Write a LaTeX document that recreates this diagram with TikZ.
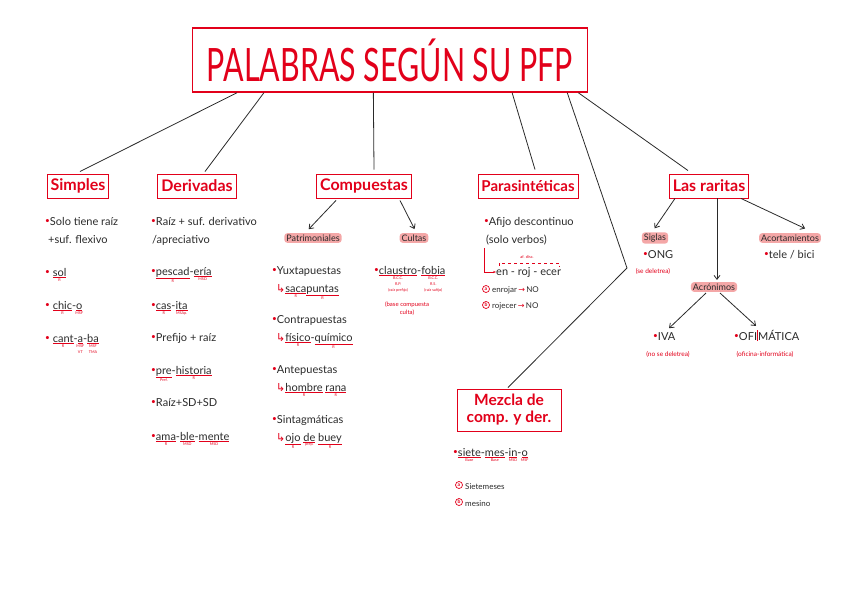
\documentclass[tikz,border=0pt]{standalone}
\usepackage{fontspec}
\setmainfont{Lato}
\newfontfamily\simbolos{DejaVu Sans}
\usetikzlibrary{arrows.meta,calc}
\definecolor{rojo}{HTML}{E2001A}
\definecolor{rosa}{HTML}{F4A7A7}
\definecolor{tinta}{HTML}{2A2A2A}
% bullet, arrows and morpheme with red underline + label
\newcommand\bul{\raisebox{1.5pt}{\scalebox{0.75}{\color{rojo}\textbullet}}}
\newcommand\flr{\,{\simbolos\color{rojo}→}\,}
\newcommand\sub{{\simbolos\color{rojo}↳}}
\newcommand\mrf[2]{\setbox0\hbox{#1}\vtop{\offinterlineskip\copy0\kern1.2pt\hbox{\color{rojo}\vrule width\wd0 height0.6pt}\kern0.9pt\hbox to\wd0{\hss\color{rojo}\fontsize{3.8}{4.2}\selectfont\shortstack{#2}\hss}}}
\begin{document}
\begin{tikzpicture}[x=1pt, y=-1pt,
    every node/.style={font=\fontsize{11}{12.5}\selectfont, text=tinta, inner sep=0pt},
    tema/.style={draw=rojo, line width=0.9pt, fill=white, text=rojo, font=\fontsize{16}{18}\selectfont\bfseries, inner xsep=3.5pt, minimum height=24pt},
    resalte/.style={fill=rosa, rounded corners=3pt, inner xsep=2pt, inner ysep=1.5pt, font=\fontsize{9}{10}\selectfont},
    txt/.style={anchor=base west},
    chico/.style={txt, font=\fontsize{8}{9}\selectfont},
    circulo/.style={circle, draw=rojo, line width=0.7pt, text=rojo, minimum size=7pt, font=\fontsize{5}{5}\selectfont\bfseries},
    nota/.style={text=rojo, font=\fontsize{6.5}{7.5}\selectfont},
    rama/.style={draw=tinta, line width=0.8pt},
    flecha/.style={rama, -{Straight Barb[length=4pt, width=6pt]}, shorten >=1pt}
]
\useasboundingbox (0,0) rectangle (848,599);

% Titulo
\node[draw=rojo, line width=1.5pt, fill=white, minimum width=395pt, minimum height=64pt, text=rojo] (titulo) at (390,60)
    {\scalebox{0.66}[1]{\fontsize{46}{46}\selectfont PALABRAS SEGÚN SU PFP}};

% Temas
\node[tema] (simples) at (78,186) {Simples};
\node[tema] (derivadas) at (197,186) {Derivadas};
\node[tema] (compuestas) at (364,186) {Compuestas};
\node[tema, font=\fontsize{15}{17}\selectfont\bfseries] (parasint) at (528,186) {Parasintéticas};
\node[tema] (raritas) at (709,186) {Las raritas};
\node[tema, align=center, font=\fontsize{15.5}{17}\selectfont\bfseries, minimum width=104pt, minimum height=42pt] (mezcla) at (509,410) {Mezcla de\\comp. y der.};

% Simples
\node[txt] (s1) at (45,225) {\bul Solo tiene raíz};
\node[txt] (s1b) at (48,243) {+suf. flexivo};
\node[txt] (s2) at (45,276) {\bul\ \mrf{sol}{R}};
\node[txt] (s3) at (45,309) {\bul\ \mrf{chic}{R}-\mrf{o}{MSF}};
\node[txt] (s4) at (45,342) {\bul\ \mrf{cant}{R}-\mrf{a}{MSF\\VT}-\mrf{ba}{MSF\\TMA}};

% Derivadas
\node[txt] (d1) at (151,225) {\bul Raíz + suf. derivativo};
\node[txt] (d1b) at (152,243) {/apreciativo};
\node[txt] (d2) at (151,275) {\bul\mrf{pescad}{R}-\mrf{ería}{MSD}};
\node[txt] (d3) at (151,309) {\bul\mrf{cas}{R}-\mrf{ita}{MSAp.}};
\node[txt] (d4) at (151,341) {\bul Prefijo + raíz};
\node[txt] (d5) at (151,374) {\bul\mrf{pre}{Pref.}-\mrf{historia}{R}};
\node[txt] (d6) at (151,406) {\bul Raíz+SD+SD};
\node[txt] (d7) at (151,440) {\bul\mrf{ama}{R}-\mrf{ble}{MSD}-\mrf{mente}{MSD}};

% Compuestas
\node[resalte] (patrim) at (313,238) {Patrimoniales};
\node[resalte] (cultas) at (414,238) {Cultas};
\node[txt] (c1) at (272,274) {\bul Yuxtapuestas};
\node[txt] (c1b) at (276,292) {\sub\mrf{saca}{R}\mrf{puntas}{R}};
\node[txt] (c2) at (374,274) {\bul\mrf{claustro}{B.C.C.\\R.P.\\(raíz prefijo)}-\mrf{fobia}{B.C.C.\\R.S.\\(raíz sufijo)}};
\node[nota, align=center, font=\fontsize{6}{8}\selectfont] (c2b) at (407,309) {(base compuesta\\culta)};
\node[txt] (c3) at (272,323) {\bul Contrapuestas};
\node[txt] (c3b) at (276,341) {\sub\mrf{físico}{R}-\mrf{químico}{R}};
\node[txt] (c4) at (272,373) {\bul Antepuestas};
\node[txt] (c4b) at (276,391) {\sub\mrf{hombre}{R} \mrf{rana}{R}};
\node[txt] (c5) at (272,423) {\bul Sintagmáticas};
\node[txt] (c5b) at (276,441) {\sub\mrf{ojo}{R} \mrf{de}{prep.} \mrf{buey}{R}};

% Parasinteticas
\node[txt] (p1) at (484,225) {\bul Afijo descontinuo};
\node[txt] (p1b) at (486,243) {(solo verbos)};
\node[txt] (p2) at (496,275) {en - roj - ecer};
\node[nota, font=\fontsize{4}{5}\selectfont] (afdisc) at (527,257) {af. disc.};
\node[circulo] (p3a) at (486,289) {a};
\node[chico] (p3) at (492,292) {enrojar\flr NO};
\node[circulo] (p4a) at (486,305) {b};
\node[chico] (p4) at (492,308) {rojecer\flr NO};

% Las raritas
\node[resalte] (siglas) at (655,238) {Siglas};
\node[resalte] (acortam) at (790,238) {Acortamientos};
\node[resalte] (acronimos) at (714,287) {Acrónimos};
\node[txt] (r1) at (643,258) {\bul ONG};
\node[nota] (r1b) at (653,271) {(se deletrea)};
\node[txt] (r2) at (764,258) {\bul tele / bici};
\node[txt] (r3) at (653,340) {\bul IVA};
\node[nota] (r3b) at (668,354) {(no se deletrea)};
\node[txt] (r4) at (734,340) {\bul OFI{\color{rojo}\vrule width 1pt height 10pt depth 1pt}MÁTICA};
\node[nota] (r4b) at (765,354) {(oficina-informática)};

% Mezcla
\node[txt] (m1) at (453,456) {\bul\mrf{siete}{Base}-\mrf{mes}{Base}-\mrf{in}{MSD}-\mrf{o}{MSF}};
\node[circulo] (m2a) at (459,485) {a};
\node[chico] (m2) at (465,489) {Sietemeses};
\node[circulo] (m3a) at (459,502) {b};
\node[chico] (m3) at (465,506) {mesino};

% Ramas del titulo
\coordinate (codo) at (627,268);
\draw[rama] ($(titulo.south west)!0.114!(titulo.south east)$) -- ($(simples.north)+(2,-2)$);
\draw[rama] ($(titulo.south west)!0.182!(titulo.south east)$) -- ($(derivadas.north)+(8,-2)$);
\draw[rama] ($(titulo.south west)!0.458!(titulo.south east)$) -- ($(compuestas.north)+(10,-4)$);
\draw[rama] ($(titulo.south west)!0.808!(titulo.south east)$) -- ($(parasint.north)+(7,-4)$);
\draw[rama] ($(titulo.south west)!0.947!(titulo.south east)$) -- (codo) -- ($(mezcla.north)+(-1,-1)$);
\draw[rama] ($(titulo.south west)!0.975!(titulo.south east)$) -- ($(raritas.north)+(-21,-3)$);

% Flechas
\draw[flecha] ($(compuestas.south)+(-28,2)$) -- ($(patrim.north)+(-5,-3)$);
\draw[flecha] ($(compuestas.south)+(36,2)$) -- ($(cultas.north)+(1,-3)$);
\draw[flecha] ($(raritas.south)+(-34,0)$) -- ($(siglas.north)+(-1,-3)$);
\draw[flecha] ($(raritas.south)+(8,0)$) -- ($(acronimos.north)+(3,-1)$);
\draw[flecha] ($(raritas.south)+(32,0)$) -- ($(acortam.north)+(16,-4)$);
\draw[flecha] ($(acronimos.south)+(-8,1)$) -- ($(r3.north)+(4,-3)$);
\draw[flecha] ($(acronimos.south)+(6,1)$) -- ($(r4.north)+(-10,-3)$);
\draw[rojo, line width=0.6pt, -{Stealth[length=3pt]}] ($(p1b.south west)+(-2,3)$) |- (p2.west);
\draw[rojo, dashed, line width=0.5pt] ($(p2.north west)+(3,-1)$) -- ++(0,-3) -- ($(p2.north east)+(-2,-4)$) -- ++(0,3);
\end{tikzpicture}
\end{document}
